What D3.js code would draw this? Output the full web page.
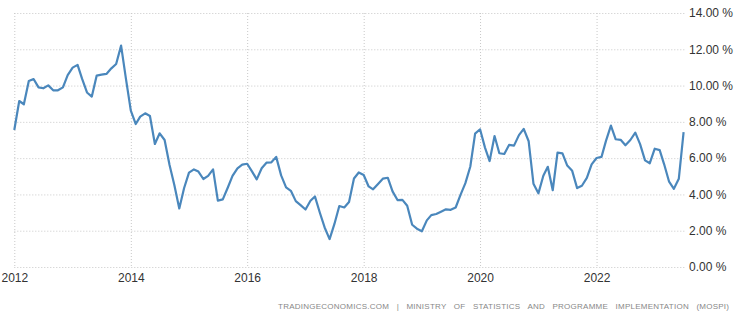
<!DOCTYPE html>
<html>
<head>
<meta charset="utf-8">
<script src="https://cdn.jsdelivr.net/npm/d3@7"></script>
<style>
  body { margin: 0; background: #fff; }
  svg text { font-family: "Liberation Sans", Arial, sans-serif; }
</style>
</head>
<body>
<div id="chart"></div>
<script>
// India inflation rate, monthly, Jan 2012 - Jul 2023
var startMonth = "2012-01";
var inflation = [
  7.55, 9.15, 8.97, 10.25, 10.36, 9.90, 9.85, 10.01, 9.74, 9.74, 9.90, 10.58,   // 2012
  10.99, 11.14, 10.38, 9.62, 9.39, 10.55, 10.60, 10.64, 10.95, 11.19, 12.20, 10.40, // 2013
  8.62, 7.88, 8.29, 8.47, 8.32, 6.78, 7.37, 7.00, 5.62, 4.52, 3.23, 4.34,       // 2014
  5.20, 5.38, 5.26, 4.85, 5.02, 5.38, 3.66, 3.73, 4.37, 5.02, 5.44, 5.64,       // 2015
  5.69, 5.26, 4.83, 5.44, 5.75, 5.77, 6.07, 5.05, 4.39, 4.20, 3.63, 3.41,       // 2016
  3.17, 3.65, 3.89, 2.99, 2.18, 1.54, 2.36, 3.36, 3.28, 3.58, 4.88, 5.21,       // 2017
  5.07, 4.44, 4.28, 4.58, 4.87, 4.92, 4.17, 3.69, 3.70, 3.38, 2.33, 2.11,       // 2018
  1.97, 2.57, 2.86, 2.92, 3.05, 3.18, 3.15, 3.28, 3.99, 4.62, 5.54, 7.35,       // 2019
  7.59, 6.58, 5.84, 7.22, 6.27, 6.23, 6.73, 6.69, 7.27, 7.61, 6.93, 4.59,       // 2020
  4.06, 5.03, 5.52, 4.23, 6.30, 6.26, 5.59, 5.30, 4.35, 4.48, 4.91, 5.66,       // 2021
  6.01, 6.07, 6.95, 7.79, 7.04, 7.01, 6.71, 7.00, 7.41, 6.77, 5.88, 5.72,       // 2022
  6.52, 6.44, 5.66, 4.70, 4.31, 4.87, 7.44                                      // 2023
];
var yTicks = [0, 2, 4, 6, 8, 10, 12, 14];
var xTickYears = [2012, 2014, 2016, 2018, 2020, 2022];
var sourceText = "TRADINGECONOMICS.COM | MINISTRY OF STATISTICS AND PROGRAMME IMPLEMENTATION (MOSPI)";

var width = 746, height = 318;
var plot = { left: 14.3, right: 683.6, top: 13, bottom: 267, gridEnd: 686 };

var parseMonth = d3.timeParse("%Y-%m");
var t0 = parseMonth(startMonth);
var data = inflation.map(function(v, i) {
  return { date: d3.timeMonth.offset(t0, i), value: v };
});

var svg = d3.select("#chart").append("svg")
  .attr("width", width)
  .attr("height", height);

var x = d3.scaleTime()
  .domain(d3.extent(data, function(d) { return d.date; }))
  .range([plot.left, plot.right]);

var y = d3.scaleLinear()
  .domain([0, 14])
  .range([plot.bottom, plot.top]);

// horizontal grid + right axis labels
var yAxis = d3.axisRight(y)
  .tickValues(yTicks)
  .tickSize(plot.gridEnd - plot.left)
  .tickPadding(3)
  .tickFormat(function(d) { return d3.format(".2f")(d) + " %"; });

var yg = svg.append("g")
  .attr("transform", "translate(" + plot.left + ",0)")
  .call(yAxis);
yg.select(".domain").remove();
yg.selectAll(".tick line")
  .attr("stroke", "#c8c8c8")
  .attr("stroke-dasharray", "1,2");
yg.selectAll(".tick text")
  .attr("fill", "#333")
  .attr("font-size", "12px");

// vertical grid + bottom labels
var xAxis = d3.axisBottom(x)
  .tickValues(xTickYears.map(function(yr) { return new Date(yr, 0, 1); }))
  .tickSize(plot.bottom - plot.top)
  .tickPadding(6)
  .tickFormat(d3.timeFormat("%Y"));

var xg = svg.append("g")
  .attr("transform", "translate(0," + plot.top + ")")
  .call(xAxis);
xg.select(".domain").remove();
xg.selectAll(".tick line")
  .attr("stroke", "#c8c8c8")
  .attr("stroke-dasharray", "1,2");
xg.selectAll(".tick text")
  .attr("fill", "#333")
  .attr("font-size", "12px");

// the series
var line = d3.line()
  .x(function(d) { return x(d.date); })
  .y(function(d) { return y(d.value); });

svg.append("path")
  .datum(data)
  .attr("fill", "none")
  .attr("stroke", "#4a87bc")
  .attr("stroke-width", 2.2)
  .attr("stroke-linejoin", "round")
  .attr("d", line);

// source note
svg.append("text")
  .attr("x", 729)
  .attr("y", 309)
  .attr("text-anchor", "end")
  .attr("font-size", "8px")
  .attr("fill", "#888")
  .attr("word-spacing", "5px")
  .attr("textLength", 451)
  .attr("lengthAdjust", "spacing")
  .text(sourceText);
</script>
</body>
</html>
